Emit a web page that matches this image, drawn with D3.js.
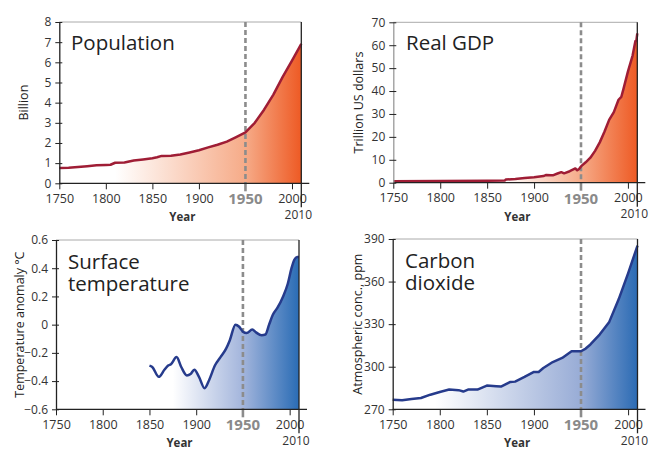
<!DOCTYPE html>
<html>
<head>
<meta charset="utf-8">
<script src="https://cdn.jsdelivr.net/npm/d3@7"></script>
<style>
  html, body { margin: 0; padding: 0; background: #fff; }
  svg { display: block; font-family: "Open Sans", "Noto Sans", sans-serif; }
</style>
</head>
<body>
<svg id="chart" width="649" height="450"></svg>
<script>
// Shared year axis
const yearTicks = [1750, 1800, 1850, 1900, 1950, 2000];
const yearMarker = 1950;
const yearEnd = 2010;

// Population, billion
const popYears  = [1750, 1760, 1770, 1780, 1790, 1800, 1805, 1810, 1820, 1825, 1830, 1840, 1850, 1855, 1860, 1870, 1880, 1890, 1900, 1910, 1920, 1930, 1940, 1950, 1960, 1970, 1980, 1990, 2000, 2010];
const popValues = [0.76, 0.77, 0.81, 0.85, 0.89, 0.91, 0.92, 1.02, 1.03, 1.08, 1.13, 1.18, 1.24, 1.29, 1.36, 1.37, 1.43, 1.53, 1.64, 1.78, 1.91, 2.07, 2.29, 2.52, 3.00, 3.65, 4.40, 5.28, 6.08, 6.92];
const popTicks  = [0, 1, 2, 3, 4, 5, 6, 7, 8];

// Real GDP, trillion US dollars
const gdpYears  = [1750, 1800, 1850, 1869, 1870, 1880, 1890, 1900, 1910, 1913, 1918, 1920, 1925, 1929, 1932, 1938, 1944, 1946, 1948, 1950, 1955, 1960, 1965, 1970, 1975, 1980, 1985, 1990, 1993, 1995, 2000, 2005, 2008, 2009, 2010];
const gdpValues = [0.6, 0.7, 0.9, 1.0, 1.4, 1.6, 2.0, 2.4, 2.9, 3.4, 3.2, 3.2, 4.0, 4.6, 4.1, 5.0, 6.2, 5.4, 6.0, 7.1, 8.9, 10.9, 13.9, 17.6, 22.2, 27.4, 30.8, 36.2, 37.5, 40.5, 48.5, 55.5, 61.8, 62.0, 65.2];
const gdpTicks  = [0, 10, 20, 30, 40, 50, 60, 70];

// Surface temperature anomaly, °C
const tempYears  = [1850, 1853, 1860, 1866, 1870, 1873, 1879, 1884, 1890, 1894, 1898, 1903, 1909, 1914, 1920, 1926, 1932, 1936, 1942, 1946, 1950, 1954, 1960, 1964, 1970, 1974, 1978, 1982, 1987, 1993, 1998, 2002, 2005, 2008, 2010];
const tempValues = [-0.29, -0.30, -0.37, -0.32, -0.29, -0.28, -0.23, -0.30, -0.36, -0.35, -0.32, -0.37, -0.45, -0.39, -0.29, -0.23, -0.17, -0.11, 0.00, -0.015, -0.05, -0.06, -0.035, -0.055, -0.075, -0.07, 0.00, 0.07, 0.12, 0.20, 0.29, 0.40, 0.46, 0.48, 0.48];
const tempTicks  = [-0.6, -0.4, -0.2, 0, 0.2, 0.4, 0.6];

// Atmospheric CO2 concentration, ppm
const co2Years  = [1750, 1760, 1770, 1780, 1790, 1800, 1810, 1820, 1825, 1830, 1840, 1850, 1860, 1865, 1875, 1880, 1890, 1900, 1905, 1910, 1920, 1930, 1940, 1950, 1955, 1960, 1970, 1980, 1990, 2000, 2010];
const co2Values = [276.8, 276.4, 277.3, 278.0, 280.3, 282.2, 283.9, 283.5, 282.5, 283.9, 283.9, 286.7, 286.2, 286.0, 289.3, 289.5, 292.8, 296.3, 296.3, 299.1, 303.3, 306.2, 310.9, 310.9, 312.8, 315.7, 322.8, 331.6, 347.5, 365.8, 385.3];
const co2Ticks  = [270, 300, 330, 360, 390];

const svg = d3.select("#chart");
const defs = svg.append("defs");

const panels = [
  { id: "pop",  years: popYears,  values: popValues,  ticks: popTicks,  domain: [0, 8],
    box: { left: 59.3, right: 301.3, top: 22, bottom: 183.3 },
    title: ["Population"], titleX: 71, titleY: 50,
    ylabel: "Billion", ylabelX: 23, yAxisColor: "#222",
    line: "#9f1d35", grad: [[1810, "#ffffff"], [1950, "#f6ab88"], [2010, "#ee5a24"]],
    fmt: d => d },
  { id: "gdp",  years: gdpYears,  values: gdpValues,  ticks: gdpTicks,  domain: [0, 70],
    box: { left: 393.3, right: 637.3, top: 22.3, bottom: 182.7 },
    title: ["Real GDP"], titleX: 406, titleY: 50,
    ylabel: "Trillion US dollars", ylabelX: 358, yAxisColor: "#999",
    line: "#9f1d35", grad: [[1870, "#ffffff"], [1950, "#f6ab88"], [2010, "#ee5a24"]],
    fmt: d => d },
  { id: "temp", years: tempYears, values: tempValues, ticks: tempTicks, domain: [-0.6, 0.6],
    box: { left: 56, right: 299, top: 240, bottom: 409.3 },
    title: ["Surface", "temperature"], titleX: 68, titleY: 269,
    ylabel: "Temperature anomaly °C", ylabelX: 19, yAxisColor: "#222",
    line: "#263b8c", grad: [[1875, "#ffffff"], [1950, "#a3b5dc"], [2010, "#2a6cb5"]],
    fmt: d => (d === 0 ? "0" : d3.format(".1f")(d)), smooth: true },
  { id: "co2",  years: co2Years,  values: co2Values,  ticks: co2Ticks,  domain: [270, 390],
    box: { left: 392.7, right: 637.5, top: 239, bottom: 409.3 },
    title: ["Carbon", "dioxide"], titleX: 405, titleY: 268,
    ylabel: "Atmospheric conc., ppm", ylabelX: 357.5, yAxisColor: "#222",
    line: "#263b8c", grad: [[1795, "#ffffff"], [1950, "#98acd6"], [2010, "#2b6bb4"]],
    fmt: d => d }
];

panels.forEach(p => {
  const b = p.box;
  const x = d3.scaleLinear().domain([1750, yearEnd]).range([b.left, b.right]);
  const y = d3.scaleLinear().domain(p.domain).range([b.bottom, b.top]);
  const data = p.years.map((yr, i) => ({ yr, v: p.values[i] }));
  const g = svg.append("g");

  // Horizontal colour ramp under the curve
  const gid = "grad-" + p.id;
  const lg = defs.append("linearGradient").attr("id", gid)
    .attr("gradientUnits", "userSpaceOnUse")
    .attr("x1", x(p.grad[0][0])).attr("x2", x(yearEnd)).attr("y1", 0).attr("y2", 0);
  const span = yearEnd - p.grad[0][0];
  p.grad.forEach(([yr, c]) => lg.append("stop")
    .attr("offset", (yr - p.grad[0][0]) / span).attr("stop-color", c));

  const curve = p.smooth ? d3.curveMonotoneX : d3.curveLinear;
  const area = d3.area().x(d => x(d.yr)).y0(b.bottom).y1(d => y(d.v)).curve(curve);
  const line = d3.line().x(d => x(d.yr)).y(d => y(d.v)).curve(curve);

  g.append("path").datum(data).attr("d", area).attr("fill", `url(#${gid})`);

  // Top frame line
  g.append("line").attr("x1", b.left).attr("x2", b.right).attr("y1", b.top).attr("y2", b.top)
    .attr("stroke", "#aaa").attr("stroke-width", 1);

  // 1950 marker
  g.append("line").attr("x1", x(yearMarker)).attr("x2", x(yearMarker))
    .attr("y1", b.top).attr("y2", b.bottom)
    .attr("stroke", "#8c8c8c").attr("stroke-width", 2.6).attr("stroke-dasharray", "5,3");
  g.append("line").attr("x1", x(yearMarker)).attr("x2", x(yearMarker))
    .attr("y1", b.bottom).attr("y2", b.bottom + 8)
    .attr("stroke", "#8c8c8c").attr("stroke-width", 2.6);

  g.append("path").datum(data).attr("d", line).attr("fill", "none")
    .attr("stroke", p.line).attr("stroke-width", 2.5).attr("stroke-linejoin", "round");

  // X axis
  const xAxis = g.append("g").attr("transform", `translate(0,${b.bottom})`)
    .call(d3.axisBottom(x).tickValues(yearTicks.filter(t => t !== yearMarker))
      .tickSize(6).tickSizeOuter(0).tickFormat(d3.format("d")));
  xAxis.select(".domain").remove();
  xAxis.selectAll(".tick line").attr("stroke", "#222");
  xAxis.selectAll(".tick text").attr("y", 10.5).attr("font-size", 12.5)
    .attr("fill", "#333").attr("font-family", "Open Sans, sans-serif");
  g.append("line").attr("x1", b.left).attr("x2", b.right + 8)
    .attr("y1", b.bottom).attr("y2", b.bottom).attr("stroke", "#222").attr("stroke-width", 1.2);

  g.append("text").attr("x", x(yearMarker)).attr("y", b.bottom + 21)
    .attr("text-anchor", "middle").attr("font-size", 15).attr("font-weight", "bold")
    .attr("fill", "#8a8a8a").text(yearMarker);

  // Right frame line reaching down to the end-year label
  g.append("line").attr("x1", b.right).attr("x2", b.right)
    .attr("y1", b.top).attr("y2", b.bottom + 24)
    .attr("stroke", "#222").attr("stroke-width", 1.3);
  g.append("text").attr("x", b.right - 3).attr("y", b.bottom + 35.5)
    .attr("text-anchor", "middle").attr("font-size", 12).attr("fill", "#333").text(yearEnd);

  g.append("text").attr("x", (b.left + b.right) / 2 + 2).attr("y", b.bottom + 38)
    .attr("text-anchor", "middle").attr("font-size", 11.5).attr("font-weight", "bold")
    .attr("fill", "#333").text("Year");

  // Y axis
  const yAxis = g.append("g").attr("transform", `translate(${b.left},0)`)
    .call(d3.axisLeft(y).tickValues(p.ticks).tickSize(4).tickSizeOuter(0).tickFormat(p.fmt));
  yAxis.select(".domain").attr("stroke", p.yAxisColor).attr("stroke-width", 1.3);
  yAxis.selectAll(".tick line").attr("stroke", "#222").attr("x2", -4).attr("x1", 3);
  yAxis.selectAll(".tick text").attr("x", -8).attr("font-size", 12)
    .attr("fill", "#333").attr("font-family", "Open Sans, sans-serif");

  g.append("text")
    .attr("transform", `translate(${p.ylabelX},${(b.top + b.bottom) / 2}) rotate(-90)`)
    .attr("text-anchor", "middle").attr("dominant-baseline", "central")
    .attr("font-size", 12.5).attr("fill", "#222").text(p.ylabel);

  // Panel title, one text element per line
  p.title.forEach((s, i) => g.append("text")
    .attr("x", p.titleX).attr("y", p.titleY + i * 22)
    .attr("font-size", 20.5).attr("fill", "#222").text(s));
});
</script>
</body>
</html>
